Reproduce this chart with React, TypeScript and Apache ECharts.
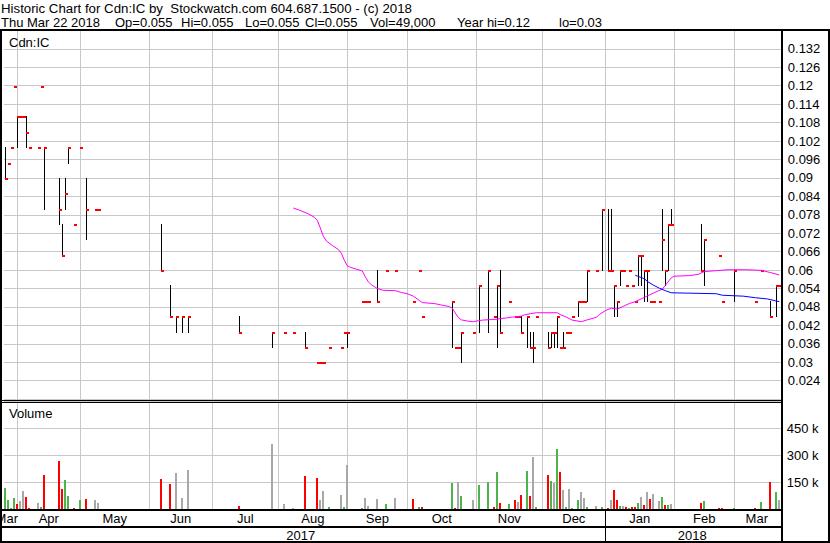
import React, { useEffect, useRef } from "react";
import * as echarts from "echarts";

const FONT = "'Liberation Sans', Arial, Helvetica, sans-serif";

const HEADER_LINE_1 = "Historic Chart for Cdn:IC by\u00A0 Stockwatch.com 604.687.1500 - (c) 2018";
const HEADER_FIELDS = [
  "Thu Mar 22 2018",
  "Op=0.055",
  "Hi=0.055",
  "Lo=0.055",
  "Cl=0.055",
  "Vol=49,000",
  "Year hi=0.12",
  "lo=0.03",
];
const HEADER_FIELD_X = [1, 115, 181, 245, 305, 370, 457, 559];
const SYMBOL_LABEL = "Cdn:IC";
const VOLUME_LABEL = "Volume";

// Trading days (only days that show a mark on the chart)
const tradeDates = [
  "2017-03-27", "2017-03-28", "2017-03-29", "2017-03-30", "2017-03-31", "2017-04-03", "2017-04-04", "2017-04-05",
  "2017-04-06", "2017-04-11", "2017-04-12", "2017-04-13", "2017-04-20", "2017-04-21", "2017-04-24", "2017-04-25",
  "2017-04-27", "2017-05-01", "2017-05-03", "2017-05-08", "2017-05-09", "2017-06-07", "2017-06-12", "2017-06-14",
  "2017-06-16", "2017-06-20", "2017-07-13", "2017-07-28", "2017-08-03", "2017-08-08", "2017-08-14", "2017-08-18",
  "2017-08-21", "2017-08-22", "2017-08-24", "2017-08-30", "2017-08-31", "2017-09-01", "2017-09-08", "2017-09-11",
  "2017-09-12", "2017-09-15", "2017-09-20", "2017-09-25", "2017-10-03", "2017-10-05", "2017-10-06", "2017-10-20",
  "2017-10-23", "2017-10-24", "2017-10-25", "2017-10-31", "2017-11-02", "2017-11-07", "2017-11-09", "2017-11-10",
  "2017-11-13", "2017-11-16", "2017-11-20", "2017-11-21", "2017-11-22", "2017-11-24", "2017-11-27", "2017-11-28",
  "2017-11-29", "2017-12-05", "2017-12-06", "2017-12-07", "2017-12-08", "2017-12-11", "2017-12-12", "2017-12-13",
  "2017-12-14", "2017-12-15", "2017-12-19", "2017-12-20", "2017-12-21", "2017-12-22", "2017-12-27", "2017-12-29",
  "2018-01-02", "2018-01-03", "2018-01-04", "2018-01-05", "2018-01-08", "2018-01-09", "2018-01-10", "2018-01-11",
  "2018-01-12", "2018-01-15", "2018-01-16", "2018-01-17", "2018-01-18", "2018-01-19", "2018-01-22", "2018-01-23",
  "2018-01-25", "2018-01-26", "2018-01-29", "2018-01-30", "2018-01-31", "2018-02-14", "2018-02-15", "2018-02-22",
  "2018-02-23", "2018-03-01", "2018-03-12", "2018-03-14", "2018-03-19", "2018-03-21", "2018-03-22",
];

const highs = [
  0.1, 0.095, 0.1, 0.12, 0.11, 0.11, 0.11, 0.11, 0.1, 0.1, 0.12, 0.1, 0.09, 0.075, 0.09, 0.1,
  0.075, 0.1, 0.09, 0.08, 0.08, 0.075, 0.055, 0.045, 0.045, 0.045, 0.045, 0.04, 0.04, 0.04, 0.04, 0.03,
  0.03, 0.03, 0.035, 0.035, 0.04, 0.04, 0.05, 0.05, 0.05, 0.06, 0.06, 0.06, 0.05, 0.06, 0.045, 0.05,
  0.035, 0.035, 0.04, 0.04, 0.055, 0.06, 0.045, 0.055, 0.06, 0.05, 0.045, 0.045, 0.045, 0.045, 0.04, 0.04,
  0.045, 0.04, 0.04, 0.04, 0.045, 0.035, 0.04, 0.04, 0.04, 0.045, 0.05, 0.05, 0.05, 0.06, 0.06, 0.08,
  0.08, 0.08, 0.055, 0.05, 0.06, 0.06, 0.055, 0.06, 0.055, 0.05, 0.065, 0.065, 0.06, 0.06, 0.05, 0.05,
  0.05, 0.08, 0.06, 0.075, 0.08, 0.075, 0.07, 0.065, 0.05, 0.06, 0.05, 0.06, 0.05, 0.055, 0.055,
];

const lows = [
  0.09, 0.095, 0.1, 0.12, 0.1, 0.11, 0.11, 0.1, 0.1, 0.1, 0.12, 0.08, 0.075, 0.065, 0.08, 0.095,
  0.075, 0.1, 0.07, 0.08, 0.08, 0.06, 0.045, 0.04, 0.04, 0.04, 0.04, 0.035, 0.04, 0.04, 0.035, 0.03,
  0.03, 0.03, 0.035, 0.035, 0.04, 0.035, 0.05, 0.05, 0.05, 0.05, 0.06, 0.06, 0.05, 0.06, 0.045, 0.035,
  0.035, 0.035, 0.03, 0.04, 0.04, 0.04, 0.045, 0.035, 0.04, 0.05, 0.045, 0.045, 0.04, 0.035, 0.035, 0.03,
  0.045, 0.035, 0.035, 0.035, 0.035, 0.035, 0.035, 0.04, 0.04, 0.045, 0.045, 0.05, 0.05, 0.05, 0.06, 0.06,
  0.06, 0.06, 0.045, 0.045, 0.055, 0.06, 0.055, 0.06, 0.055, 0.05, 0.055, 0.055, 0.05, 0.05, 0.05, 0.05,
  0.05, 0.06, 0.055, 0.06, 0.075, 0.06, 0.055, 0.065, 0.05, 0.05, 0.05, 0.06, 0.045, 0.045, 0.055,
];

const closes = [
  0.09, 0.095, 0.1, 0.12, 0.11, 0.11, 0.11, 0.105, 0.1, 0.1, 0.12, 0.1, 0.08, 0.065, 0.085, 0.1,
  0.075, 0.1, 0.08, 0.08, 0.08, 0.06, 0.045, 0.045, 0.045, 0.045, 0.04, 0.04, 0.04, 0.04, 0.035, 0.03,
  0.03, 0.03, 0.035, 0.035, 0.04, 0.04, 0.05, 0.05, 0.05, 0.05, 0.06, 0.06, 0.05, 0.06, 0.045, 0.05,
  0.035, 0.035, 0.04, 0.04, 0.055, 0.06, 0.045, 0.055, 0.04, 0.05, 0.045, 0.045, 0.04, 0.045, 0.035, 0.035,
  0.045, 0.035, 0.04, 0.04, 0.045, 0.035, 0.035, 0.04, 0.04, 0.045, 0.05, 0.05, 0.05, 0.06, 0.06, 0.08,
  0.06, 0.06, 0.055, 0.05, 0.06, 0.06, 0.055, 0.06, 0.055, 0.05, 0.065, 0.065, 0.06, 0.06, 0.05, 0.05,
  0.05, 0.07, 0.06, 0.075, 0.075, 0.06, 0.07, 0.065, 0.05, 0.06, 0.05, 0.06, 0.045, 0.055, 0.055,
];

const volumes = [
  117000, 50000, 7000, 63000, 28000, 44000, 100000, 67000, 6000, 33000, 11000, 189000, 267000, 111000, 161000, 72000,
  6000, 50000, 56000, 50000, 33000, 167000, 139000, 200000, 61000, 217000, 17000, 361000, 30000, 7000, 185000, 172000,
  50000, 102000, 11000, 80000, 11000, 246000, 6000, 61000, 19000, 56000, 28000, 61000, 56000, 11000, 11000, 144000,
  6000, 150000, 72000, 50000, 135000, 150000, 11000, 206000, 33000, 28000, 50000, 39000, 78000, 211000, 72000, 289000,
  11000, 189000, 156000, 144000, 333000, 206000, 106000, 11000, 111000, 6000, 50000, 94000, 61000, 11000, 17000, 11000,
  6000, 50000, 106000, 50000, 17000, 17000, 11000, 6000, 11000, 11000, 33000, 67000, 22000, 94000, 56000, 83000,
  44000, 67000, 22000, 22000, 28000, 33000, 44000, 4000, 4000, 6000, 6000, 39000, 150000, 94000, 49000,
];

// u = up (green), d = down (red), n = unchanged (grey)
const volumeDirections = [
  "u", "u", "u", "u", "d", "n", "n", "d", "d", "n", "u", "d", "d", "d", "u", "u",
  "d", "u", "d", "n", "n", "d", "d", "n", "n", "n", "d", "n", "n", "n", "d", "d",
  "n", "n", "u", "n", "u", "n", "u", "n", "n", "n", "u", "n", "d", "u", "d", "u",
  "d", "n", "u", "n", "u", "u", "d", "u", "d", "u", "d", "n", "d", "u", "d", "n",
  "u", "d", "u", "n", "u", "d", "n", "u", "n", "u", "u", "n", "n", "u", "n", "u",
  "d", "n", "d", "d", "u", "n", "d", "u", "d", "d", "u", "n", "d", "n", "d", "n",
  "n", "u", "d", "u", "n", "d", "u", "d", "d", "u", "d", "u", "d", "u", "n",
];

// Moving averages
const maLongDates = [
  "2017-08-08", "2017-08-10", "2017-08-15", "2017-08-17", "2017-08-18", "2017-08-21", "2017-08-22", "2017-08-23",
  "2017-08-25", "2017-08-29", "2017-08-30", "2017-08-31", "2017-09-01", "2017-09-04", "2017-09-06", "2017-09-08",
  "2017-09-11", "2017-09-12", "2017-09-13", "2017-09-14", "2017-09-15", "2017-09-19", "2017-09-25", "2017-09-27",
  "2017-09-29", "2017-10-03", "2017-10-05", "2017-10-06", "2017-10-12", "2017-10-16", "2017-10-19", "2017-10-20",
  "2017-10-23", "2017-10-24", "2017-10-25", "2017-10-27", "2017-10-31", "2017-11-01", "2017-11-03", "2017-11-08",
  "2017-11-10", "2017-11-13", "2017-11-15", "2017-11-17", "2017-11-22", "2017-11-23", "2017-11-27", "2017-11-29",
  "2017-12-08", "2017-12-11", "2017-12-13", "2017-12-15", "2017-12-20", "2017-12-22", "2017-12-27", "2017-12-28",
  "2018-01-01", "2018-01-03", "2018-01-05", "2018-01-09", "2018-01-11", "2018-01-15", "2018-01-18", "2018-01-23",
  "2018-01-26", "2018-01-29", "2018-01-31", "2018-02-01", "2018-02-08", "2018-02-13", "2018-02-15", "2018-02-21",
  "2018-02-27", "2018-03-07", "2018-03-14", "2018-03-19", "2018-03-22",
];
const maLongValues = [
  0.0802, 0.0795, 0.0783, 0.0772, 0.0762, 0.0737, 0.071, 0.0695,
  0.068, 0.0667, 0.0655, 0.0632, 0.0614, 0.0609, 0.0603, 0.0597,
  0.0578, 0.0562, 0.0552, 0.0546, 0.054, 0.0534, 0.0533, 0.0527,
  0.0523, 0.0515, 0.0501, 0.0494, 0.0491, 0.0487, 0.0481, 0.0476,
  0.046, 0.0446, 0.0438, 0.0434, 0.0432, 0.0434, 0.0437, 0.0439,
  0.044, 0.0442, 0.0444, 0.0447, 0.045, 0.0454, 0.0458, 0.0461,
  0.0461, 0.0455, 0.0447, 0.0437, 0.0432, 0.0438, 0.0446, 0.0455,
  0.0468, 0.0476, 0.0473, 0.0482, 0.0491, 0.0497, 0.0511, 0.0525,
  0.0538, 0.055, 0.0575, 0.058, 0.0582, 0.0586, 0.0595, 0.0598,
  0.0601, 0.0601, 0.0599, 0.0592, 0.0584,
];
const maShortDates = [
  "2018-01-15", "2018-01-18", "2018-01-19", "2018-01-23", "2018-01-25", "2018-01-29", "2018-01-31", "2018-02-07",
  "2018-02-21", "2018-02-23", "2018-03-06", "2018-03-12", "2018-03-16", "2018-03-22",
];
const maShortValues = [
  0.0583, 0.0572, 0.0563, 0.0551, 0.0541, 0.0533, 0.0526, 0.0525,
  0.0523, 0.0518, 0.0515, 0.051, 0.0506, 0.0497,
];

const monthStarts = [
  "2017-04-01", "2017-05-01", "2017-06-01", "2017-07-01", "2017-08-01", "2017-09-01", "2017-10-01",
  "2017-11-01", "2017-12-01", "2018-01-01", "2018-02-01", "2018-03-01",
];
const monthNames = ["Mar", "Apr", "May", "Jun", "Jul", "Aug", "Sep", "Oct", "Nov", "Dec", "Jan", "Feb", "Mar"];
const yearNames = ["2017", "2018"];

function weekdays(from: string, to: string): string[] {
  const out: string[] = [];
  const d = new Date(from + "T00:00:00Z");
  const end = new Date(to + "T00:00:00Z");
  while (d <= end) {
    const wd = d.getUTCDay();
    if (wd !== 0 && wd !== 6) out.push(d.toISOString().slice(0, 10));
    d.setUTCDate(d.getUTCDate() + 1);
  }
  return out;
}

const CALENDAR = weekdays("2017-03-22", "2018-03-22");
const dayIndex = (s: string) => CALENDAR.indexOf(s);
const boundaryIndex = (s: string) => {
  let idx = 0;
  for (let i = 0; i < CALENDAR.length; i++) if (CALENDAR[i] <= s) idx = i;
  return idx;
};

const X_MIN = 2.5;
const X_MAX = CALENDAR.length - 0.5;
const GRID_LEFT = 3.8;
const GRID_W = 777;
const pxOf = (v: number) => GRID_LEFT + ((v - X_MIN) / (X_MAX - X_MIN)) * GRID_W;

const COLORS: Record<string, string> = { u: "#4db34d", d: "#ff0000", n: "#a8a8a8" };

export default function App() {
  const ref = useRef<HTMLDivElement>(null);
  useEffect(() => {
    if (!ref.current) return;
    const chart = echarts.init(ref.current, undefined, { renderer: "svg" });

    const bounds = monthStarts.map(boundaryIndex);
    const allBounds = [0, ...bounds, CALENDAR.length - 1];
    const monthPos: number[] = [];
    const monthText: Record<string, string> = {};
    for (let k = 0; k < allBounds.length - 1; k++) {
      const p = (allBounds[k] + allBounds[k + 1]) / 2;
      monthPos.push(p);
      monthText[String(p)] = monthNames[k];
    }
    const janIdx = boundaryIndex("2018-01-01");
    const yearPos = [janIdx / 2, (janIdx + CALENDAR.length - 1) / 2];
    const yearText: Record<string, string> = {};
    yearPos.forEach((p, k) => (yearText[String(p)] = yearNames[k]));

    const ohlc = tradeDates.map((d, k) => [dayIndex(d), highs[k], lows[k], closes[k]]);
    const vols = tradeDates.map((d, k) => [dayIndex(d), volumes[k], volumeDirections[k]]);
    const maLong = maLongDates.map((d, k) => [dayIndex(d), maLongValues[k]]);
    const maShort = maShortDates.map((d, k) => [dayIndex(d), maShortValues[k]]);

    const gridLineRender = (params: any, api: any) => {
      const p = api.coord([api.value(0), api.value(1)]);
      const cs = params.coordSys;
      const x = Math.floor(p[0]) + 0.5;
      return {
        type: "line",
        shape: { x1: x, y1: cs.y, x2: x, y2: cs.y + cs.height },
        style: { stroke: "#c8c8c8", lineWidth: 1 },
      };
    };

    const axisLabelBase = { fontFamily: FONT, fontSize: 13, color: "#000" };
    const yearDividerX = Math.floor(pxOf(janIdx));

    const frame = [
      { x: 0, y: 29, w: 830, h: 2 },
      { x: 0, y: 29, w: 2, h: 514 },
      { x: 781, y: 29, w: 2, h: 514 },
      { x: 828, y: 29, w: 2, h: 514 },
      { x: 0, y: 400, w: 783, h: 1 },
      { x: 0, y: 402, w: 783, h: 1 },
      { x: 0, y: 509, w: 783, h: 2 },
      { x: 0, y: 526, w: 783, h: 2 },
      { x: 0, y: 541, w: 830, h: 2 },
      { x: yearDividerX, y: 509, w: 1, h: 33 },
    ];

    chart.setOption({
      animation: false,
      backgroundColor: "#ffffff",
      textStyle: { fontFamily: FONT },
      grid: [
        { left: GRID_LEFT, width: GRID_W, top: 30.4, height: 368.7, outerBoundsMode: "none", containLabel: false },
        { left: GRID_LEFT, width: GRID_W, top: 401, height: 108, outerBoundsMode: "none", containLabel: false },
      ],
      xAxis: [
        { gridIndex: 0, type: "value", min: X_MIN, max: X_MAX, show: false },
        {
          gridIndex: 1,
          type: "value",
          min: X_MIN,
          max: X_MAX,
          position: "bottom",
          axisLine: { show: false },
          axisTick: { show: false },
          splitLine: { show: false },
          axisLabel: {
            ...axisLabelBase,
            margin: 3,
            customValues: monthPos,
            formatter: (v: number) => monthText[String(v)] ?? "",
          },
        },
        {
          gridIndex: 1,
          type: "value",
          min: X_MIN,
          max: X_MAX,
          position: "bottom",
          offset: 18,
          axisLine: { show: false },
          axisTick: { show: false },
          splitLine: { show: false },
          axisLabel: {
            ...axisLabelBase,
            margin: 2,
            customValues: yearPos,
            formatter: (v: number) => yearText[String(v)] ?? "",
          },
        },
      ],
      yAxis: [
        {
          gridIndex: 0,
          type: "value",
          position: "right",
          min: 0.018,
          max: 0.138,
          interval: 0.006,
          axisLine: { show: false },
          axisTick: { show: false },
          splitLine: { lineStyle: { color: "#c8c8c8", width: 1 } },
          axisLabel: {
            ...axisLabelBase,
            margin: 7,
            showMinLabel: false,
            showMaxLabel: false,
            formatter: (v: number) => String(parseFloat(v.toFixed(3))),
          },
        },
        {
          gridIndex: 1,
          type: "value",
          position: "right",
          min: 0,
          max: 600000,
          interval: 150000,
          axisLine: { show: false },
          axisTick: { show: false },
          splitLine: { lineStyle: { color: "#c8c8c8", width: 1 } },
          axisLabel: {
            ...axisLabelBase,
            margin: 6,
            showMinLabel: false,
            showMaxLabel: false,
            formatter: (v: number) => `${Math.round(v / 1000)} k`,
          },
        },
      ],
      series: [
        {
          type: "custom",
          xAxisIndex: 0,
          yAxisIndex: 0,
          z: 1,
          silent: true,
          data: bounds.map((b) => [b, 0.05]),
          encode: { x: 0, y: 1 },
          renderItem: gridLineRender,
        },
        {
          type: "custom",
          xAxisIndex: 1,
          yAxisIndex: 1,
          z: 1,
          silent: true,
          data: bounds.map((b) => [b, 100000]),
          encode: { x: 0, y: 1 },
          renderItem: gridLineRender,
        },
        {
          type: "custom",
          name: "Price",
          xAxisIndex: 0,
          yAxisIndex: 0,
          z: 3,
          data: ohlc,
          encode: { x: 0, y: [1, 2, 3] },
          renderItem: (params: any, api: any) => {
            const i = api.value(0);
            const h = api.value(1);
            const l = api.value(2);
            const c = api.value(3);
            const ph = api.coord([i, h]);
            const pl = api.coord([i, l]);
            const pc = api.coord([i, c]);
            const x = Math.floor(ph[0]);
            const children: any[] = [];
            if (h !== l) {
              const y1 = Math.round(ph[1]);
              const y2 = Math.round(pl[1]);
              children.push({
                type: "rect",
                shape: { x, y: y1, width: 1, height: y2 - y1 + 1 },
                style: { fill: "#000000" },
              });
            }
            children.push({
              type: "rect",
              shape: { x, y: Math.round(pc[1]), width: 3, height: 2 },
              style: { fill: "#ff0000" },
            });
            return { type: "group", children };
          },
        },
        {
          type: "custom",
          name: "Volume",
          xAxisIndex: 1,
          yAxisIndex: 1,
          z: 3,
          data: vols,
          encode: { x: 0, y: 1 },
          renderItem: (params: any, api: any) => {
            const i = api.value(0);
            const v = api.value(1);
            const dir = api.value(2);
            const base = api.coord([i, 0]);
            const top = api.coord([i, v]);
            const x = Math.floor(base[0]) - 1;
            const y = Math.round(top[1]);
            const h = Math.max(1, Math.round(base[1]) - y);
            return {
              type: "rect",
              shape: { x, y, width: 2, height: h },
              style: { fill: COLORS[dir] || "#a8a8a8" },
            };
          },
        },
        {
          type: "line",
          name: "MA long",
          xAxisIndex: 0,
          yAxisIndex: 0,
          z: 4,
          data: maLong,
          showSymbol: false,
          symbol: "none",
          lineStyle: { color: "#ff00ff", width: 1 },
        },
        {
          type: "line",
          name: "MA short",
          xAxisIndex: 0,
          yAxisIndex: 0,
          z: 4,
          data: maShort,
          showSymbol: false,
          symbol: "none",
          lineStyle: { color: "#0000ff", width: 1 },
        },
      ],
      graphic: [
        {
          type: "text",
          x: 1,
          y: 8,
          style: { text: HEADER_LINE_1, fontFamily: FONT, fontSize: 13.25, fill: "#000", verticalAlign: "middle" },
        },
        ...HEADER_FIELDS.map((t, k) => ({
          type: "text",
          x: HEADER_FIELD_X[k],
          y: 22,
          style: { text: t, fontFamily: FONT, fontSize: 13, fill: "#000", verticalAlign: "middle" },
        })),
        {
          type: "text",
          x: 9,
          y: 42,
          z: 10,
          style: { text: SYMBOL_LABEL, fontFamily: FONT, fontSize: 13, fill: "#000", verticalAlign: "middle" },
        },
        {
          type: "text",
          x: 9,
          y: 413,
          z: 10,
          style: { text: VOLUME_LABEL, fontFamily: FONT, fontSize: 13, fill: "#000", verticalAlign: "middle" },
        },
        ...frame.map((r) => ({
          type: "rect",
          z: 20,
          silent: true,
          shape: { x: r.x, y: r.y, width: r.w, height: r.h },
          style: { fill: "#000000" },
        })),
      ],
    });

    return () => chart.dispose();
  }, []);

  return (
    <div
      ref={ref}
      style={{ position: "absolute", left: 0, top: 0, width: 830, height: 543, background: "#fff" }}
    />
  );
}
